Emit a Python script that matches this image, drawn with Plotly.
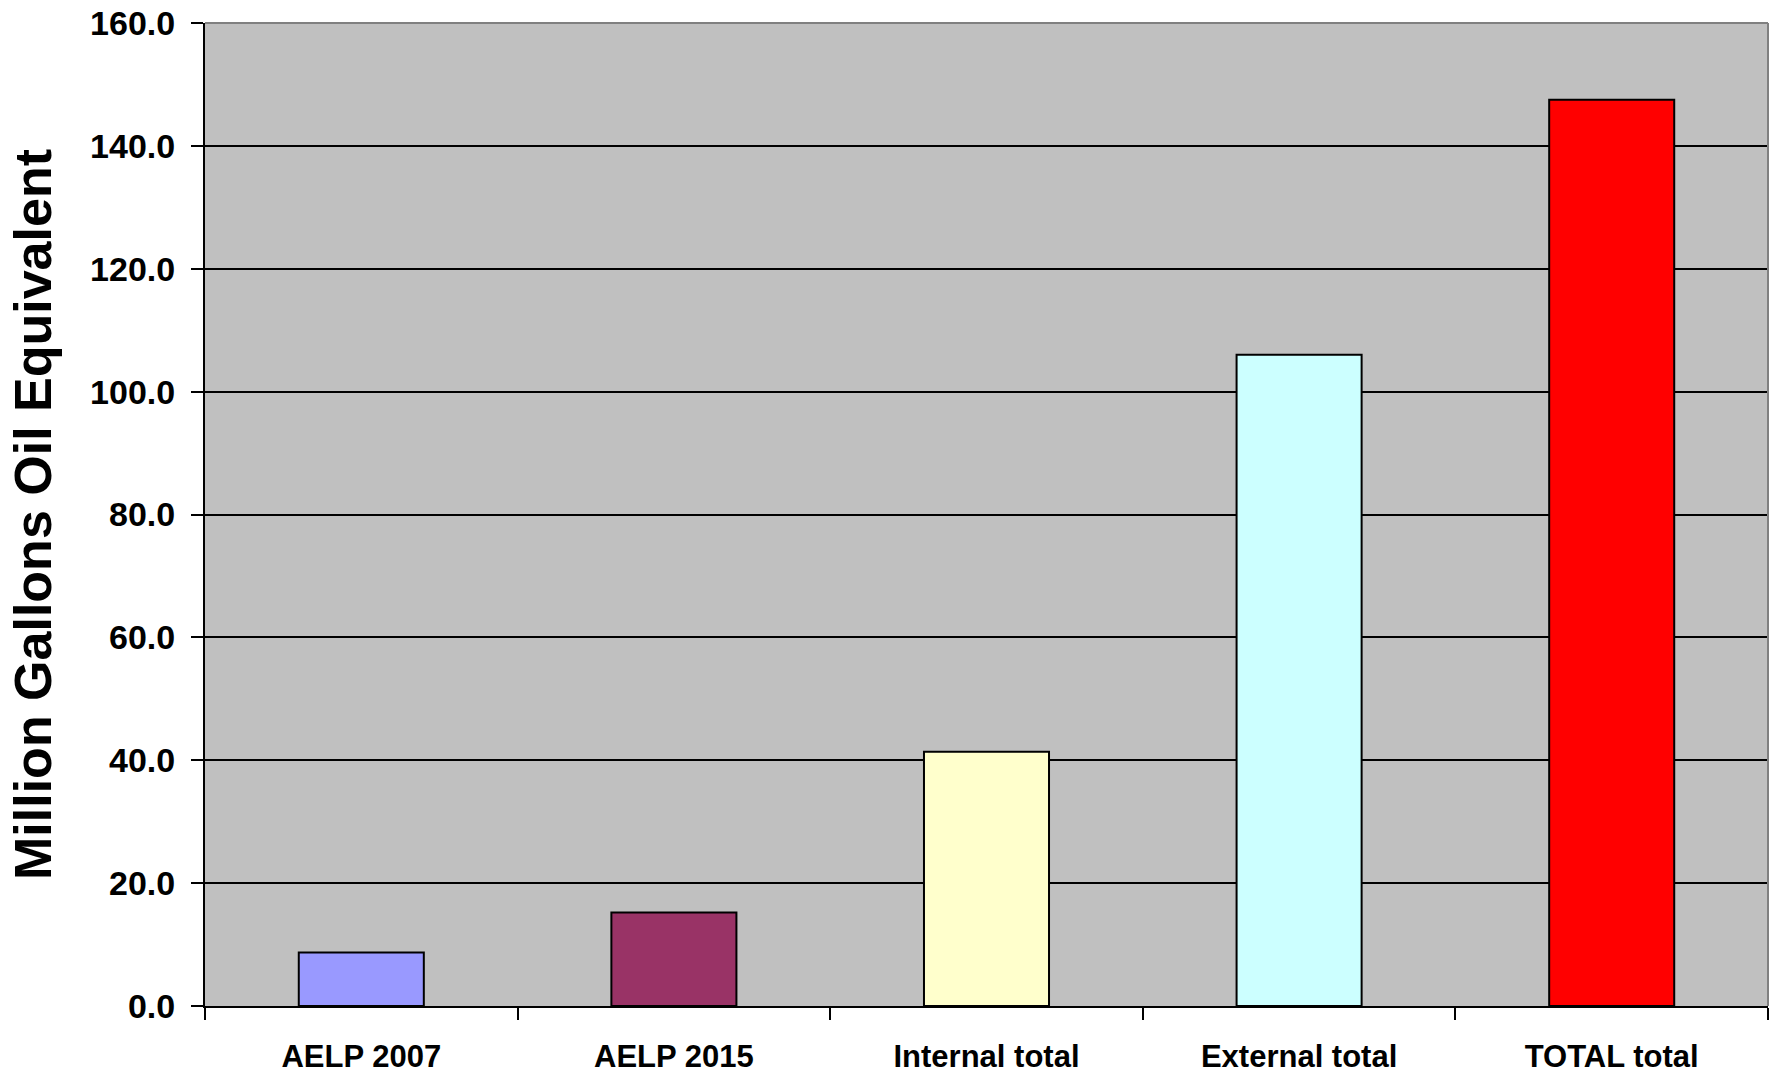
import plotly.graph_objects as go

categories = ["AELP 2007", "AELP 2015", "Internal total", "External total", "TOTAL total"]
values = [8.7, 15.2, 41.4, 106.0, 147.5]
bar_colors = ["#9999FF", "#993366", "#FFFFCC", "#CCFFFF", "#FF0000"]
y_title = "Million Gallons Oil Equivalent"

FONT = "Liberation Sans, Arial, sans-serif"

fig = go.Figure()
fig.add_trace(go.Bar(
    x=categories, y=values,
    marker=dict(color=bar_colors, line=dict(color="black", width=2)),
    width=0.4,
))

fig.update_layout(
    width=1781, height=1072,
    margin=dict(l=205, r=13, t=23, b=66),
    paper_bgcolor="white", plot_bgcolor="#C0C0C0",
    showlegend=False,
    font=dict(family=FONT, color="black"),
    shapes=[
        dict(type="line", xref="paper", yref="paper", x0=0, x1=1, y0=1, y1=1,
             line=dict(color="#808080", width=2), layer="above"),
        dict(type="line", xref="paper", yref="paper", x0=1, x1=1, y0=0, y1=1,
             line=dict(color="#808080", width=2), layer="above"),
    ],
)
fig.update_xaxes(
    automargin=False,
    showline=True, linecolor="black", linewidth=2,
    ticks="outside", ticklen=12, tickwidth=2, tickcolor="black",
    tickson="boundaries", showgrid=False,
    tickfont=dict(family=FONT, size=31, color="black", weight="bold"),
    ticklabelstandoff=22,
)
fig.update_yaxes(
    automargin=False,
    range=[0, 160], dtick=20, tickformat=".1f",
    showline=True, linecolor="black", linewidth=2,
    ticks="outside", ticklen=12, tickwidth=2, tickcolor="black",
    showgrid=True, gridcolor="black", gridwidth=2,
    zeroline=False,
    tickfont=dict(family=FONT, size=34, color="black", weight="bold"),
    ticklabelstandoff=9,
    title=dict(text=y_title, font=dict(family=FONT, size=52, color="black", weight="bold"),
               standoff=22),
)

fig.write_html("out.html")
